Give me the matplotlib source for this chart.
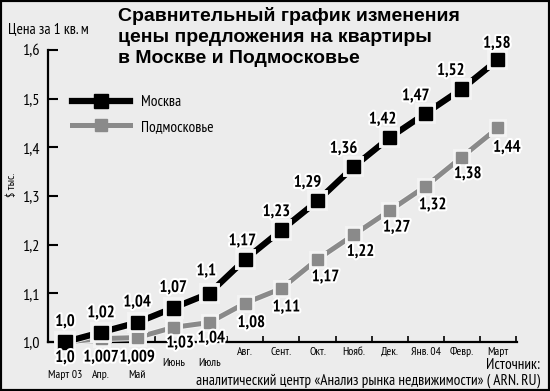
import matplotlib
matplotlib.use("Agg")
import matplotlib.pyplot as plt
import matplotlib.patheffects as pe
from matplotlib.lines import Line2D
from matplotlib.patches import Rectangle

# === данные ===
months = ["Март 03", "Апр.", "Май", "Июнь", "Июль", "Авг.", "Сент.", "Окт.",
          "Нояб.", "Дек.", "Янв. 04", "Февр.", "Март"]
moscow = [1.0, 1.02, 1.04, 1.07, 1.1, 1.17, 1.23, 1.29, 1.36, 1.42, 1.47, 1.52, 1.58]
moscow_labels = ["1,0", "1,02", "1,04", "1,07", "1,1", "1,17", "1,23", "1,29",
                 "1,36", "1,42", "1,47", "1,52", "1,58"]
region = [1.0, 1.007, 1.009, 1.03, 1.04, 1.08, 1.11, 1.17, 1.22, 1.27, 1.32, 1.38, 1.44]
region_labels = ["1,0", "1,007", "1,009", "1,03", "1,04", "1,08", "1,11", "1,17",
                 "1,22", "1,27", "1,32", "1,38", "1,44"]
yticks = [1.0, 1.1, 1.2, 1.3, 1.4, 1.5, 1.6]
ytick_labels = ["1,0", "1,1", "1,2", "1,3", "1,4", "1,5", "1,6"]

# смещения подписей (пиксели)
m_off = [(0, 20), (0, 19), (0, 20), (0, 20), (-3, 22), (-3, 18), (-5, 18), (-10, 18),
         (-10, 18), (-7, 18), (-10, 17), (-11, 18), (-1, 16)]
g_off = [(0, -16), (0, -19), (0, -20), (7, -16), (2, -16), (6, -20), (5, -19), (8, -18),
         (7, -17), (7, -17), (7, -19), (6, -17), (9, -20)]
month_pads = [20, 20, 20, 11.5, 11.5] + [3.6] * 8

NARROW = ["PT Sans Narrow", "Roboto Condensed", "DejaVu Sans"]
BG = "#ececec"
GREY = "#8a8a8a"

W, H = 550, 391
fig = plt.figure(figsize=(5.5, 3.91), dpi=100, facecolor=BG)
ax = fig.add_axes([48 / W, 49 / H, (517 - 48) / W, (342 - 50) / H])
ax.set_facecolor(BG)

halo = [pe.Stroke(linewidth=3, foreground="white"), pe.Normal()]

x = list(range(len(months)))
ax.plot(x, region, color=GREY, lw=3.6, marker="s", ms=8, clip_on=False, zorder=3,
        path_effects=[pe.Stroke(linewidth=5, foreground="#f4f4f4"), pe.Normal()])
ax.plot(x, moscow, color="black", lw=4.5, marker="s", ms=9.5, clip_on=False, zorder=4,
        path_effects=[pe.Stroke(linewidth=5.7, foreground="#f4f4f4"), pe.Normal()])

for i in x:
    ax.annotate(moscow_labels[i], (i, moscow[i]), xytext=m_off[i], textcoords="offset pixels",
                ha="center", va="center", fontsize=12, fontweight="bold", family=NARROW,
                path_effects=halo, zorder=6, annotation_clip=False)
    ax.annotate(region_labels[i], (i, region[i]), xytext=g_off[i], textcoords="offset pixels",
                ha="center", va="center", fontsize=12, fontweight="bold", family=NARROW,
                path_effects=halo, zorder=6, annotation_clip=False)

ax.set_xlim(-0.471, 12.53)
ax.set_ylim(1.0, 1.6)
ax.set_yticks(yticks)
ax.set_yticklabels(ytick_labels, family=NARROW, fontsize=11.5)
ax.set_xticks(x)
ax.set_xticklabels(months, family=NARROW, fontsize=8.5)
ax.set_xticks([i + 0.5 for i in x], minor=True)
ax.tick_params(axis="y", direction="in", length=7, width=1.5, pad=6)
ax.tick_params(axis="x", which="major", length=0)
ax.tick_params(axis="x", which="minor", direction="in", length=4, width=1.2)
for t, p in zip(ax.xaxis.get_major_ticks(), month_pads):
    t.set_pad(p)

for s in ["top", "right"]:
    ax.spines[s].set_visible(False)
for s in ["left", "bottom"]:
    ax.spines[s].set_linewidth(1.6)

# легенда
handles = [Line2D([], [], color="black", lw=4.5, marker="s", ms=9.5),
           Line2D([], [], color=GREY, lw=3.6, marker="s", ms=8)]
ax.legend(handles, ["Москва", "Подмосковье"], loc="upper left",
          bbox_to_anchor=((72 - 48) / (517 - 48), (342 - 95) / (342 - 50)),
          frameon=False, handlelength=3.8, handletextpad=0.7, labelspacing=0.7,
          borderpad=0, borderaxespad=0, prop={"family": NARROW, "size": 11})

# тексты
fig.text(118 / W, 1 - 7 / H, "Сравнительный график изменения\nцены предложения на квартиры\nв Москве и Подмосковье",
         ha="left", va="top", fontsize=14, fontweight="bold", family=["Liberation Sans", "DejaVu Sans"],
         linespacing=1.32)
fig.text(8 / W, 1 - 30 / H, "Цена за 1 кв. м", ha="left", va="center", fontsize=11, family=NARROW)
fig.text(12 / W, 1 - 185 / H, "$ тыс.", ha="center", va="center", rotation=90, fontsize=8.5, family=NARROW)
fig.text(540 / W, 1 - 365 / H, "Источник:", ha="right", va="center", fontsize=11, family=NARROW)
fig.text(540 / W, 1 - 381 / H, "аналитический центр «Анализ рынка недвижимости» ( ARN. RU)",
         ha="right", va="center", fontsize=11, family=NARROW)

fig.patches.append(Rectangle((0, 0), 1, 1, transform=fig.transFigure, fill=False,
                             lw=3, ec="black"))

fig.savefig("out.png", dpi=100, facecolor=BG)
